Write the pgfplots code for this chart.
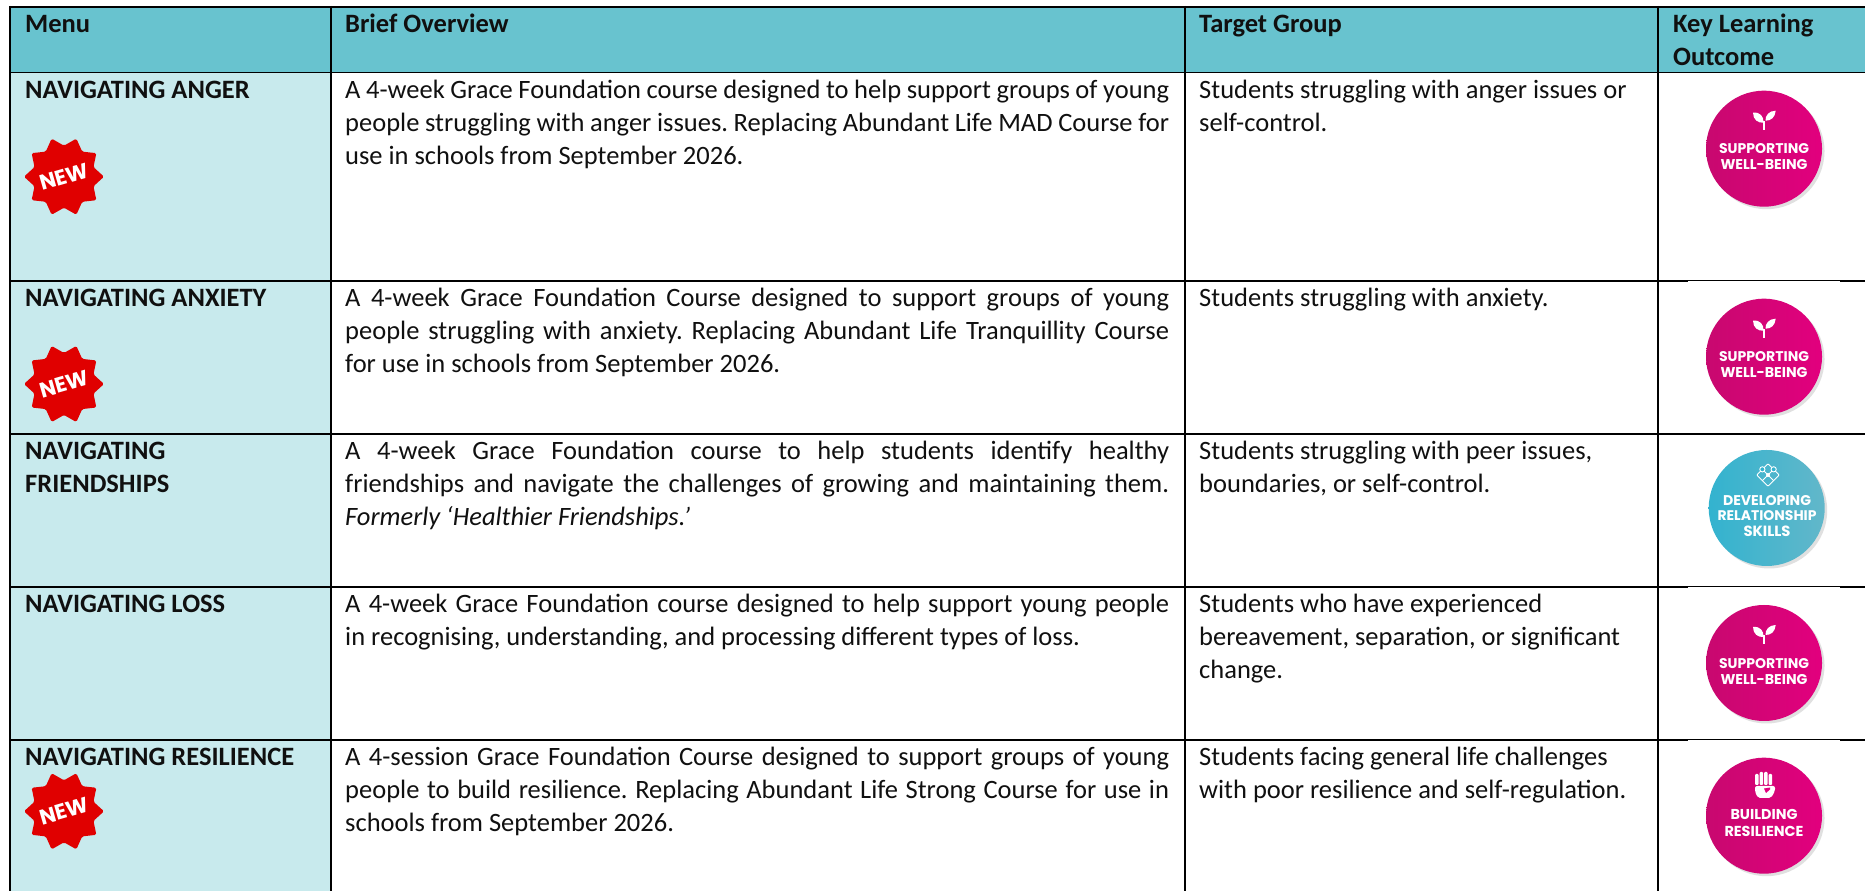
\documentclass[border=0pt]{standalone}
\usepackage{graphicx}
\usepackage{fontspec}
\setmainfont{Carlito}
\newfontfamily\badgef{Poppins}
\usepackage{pgfplots}
\pgfplotsset{compat=1.18}
\frenchspacing
\definecolor{hdr}{HTML}{68C3CF}
\definecolor{rowc}{HTML}{C8EAED}
\definecolor{ink}{HTML}{101010}
\definecolor{newred}{HTML}{E00000}
\definecolor{magL}{HTML}{C8086F}
\definecolor{magR}{HTML}{E2007E}
\definecolor{tealL}{HTML}{33B3CF}
\definecolor{tealR}{HTML}{62B7CA}
\newcommand{\bodyf}{\fontsize{26.5}{33}\selectfont\frenchspacing\color{ink}}
\newcommand{\cell}[3]{\node[anchor=base west,inner sep=0pt,font=\bodyf] at (axis cs:#1,#2) {#3};}
\newcommand{\just}[2]{\node[anchor=base west,inner sep=0pt,font=\bodyf] at (axis cs:345,#1) {\makebox[824pt][s]{#2}};}
\newcommand{\hl}[1]{\addplot[black,line width=1.8pt,forget plot] coordinates {(9,#1)(1865,#1)};}
\newcommand{\vl}[1]{\addplot[black,line width=1.8pt,forget plot] coordinates {(#1,6)(#1,891)};}
\newcommand{\gap}[1]{\addplot[fill=white,draw=none,forget plot] coordinates {(1688,#1)(1840,#1)(1840,#1+1.2)(1688,#1+1.2)} --cycle;}
% badge
\newcommand{\newbadge}[2]{%
  \begin{scope}[shift={(#1,#2)}]
    \fill[newred,rounded corners=1.5pt]
      (0:40) -- (18:31) -- (36:40) -- (54:31) -- (72:40) -- (90:31) -- (108:40) -- (126:31) -- (144:40) -- (162:31)
      -- (180:40) -- (198:31) -- (216:40) -- (234:31) -- (252:40) -- (270:31) -- (288:40) -- (306:31) -- (324:40) -- (342:31) -- cycle;
    \node[white,inner sep=0pt,rotate=16] at (0,0) {\resizebox{50pt}{!}{\badgef\bfseries NEW}};
  \end{scope}}
% disc
\newcommand{\disc}[4]{%
  \fill[black!22,opacity=.55] (#1+2.5,#2+2.5) circle[radius=58];
  \shade[left color=#3,right color=#4] (#1,#2) circle[radius=58];}
\newcommand{\ctext}[4]{\node[white,anchor=base,inner sep=0pt] at (#1,#2) {\resizebox{#3pt}{!}{\badgef\bfseries #4}};}
\newcommand{\sprout}[2]{%
  \begin{scope}[shift={(#1,#2)}]
    \fill[white] (-11,-36) .. controls (-4,-37) and (0,-32) .. (-0.5,-26) .. controls (-6,-25.5) and (-11,-29) .. (-11,-36) -- cycle;
    \fill[white] (11.7,-38) .. controls (5,-38) and (1,-33) .. (1.5,-28) .. controls (7,-28) and (11,-31) .. (11.7,-38) -- cycle;
    \fill[white] (-0.8,-28) -- (1.4,-28) -- (1.4,-19) -- (-0.8,-19) -- cycle;
  \end{scope}}
\newcommand{\well}[2]{%
  \disc{#1}{#2}{magL}{magR}
  \sprout{#1}{#2}
  \ctext{#1}{#2+5.3}{90}{SUPPORTING}
  \ctext{#1}{#2+21.3}{87}{WELL-BEING}}
\begin{document}
\begin{tikzpicture}
\path[use as bounding box,fill=white] (0,0) rectangle (1865pt,891pt);
\begin{axis}[
  at={(0,0)},anchor=south west,
  width=1865pt,height=891pt,scale only axis,
  xmin=0,xmax=1865,ymin=0,ymax=891,y dir=reverse,
  hide axis,clip=false]
% fills
\addplot[fill=hdr,draw=none,forget plot] coordinates {(10,7)(1865,7)(1865,72.5)(10,72.5)} --cycle;
\addplot[fill=rowc,draw=none,forget plot] coordinates {(10,72.5)(331,72.5)(331,891)(10,891)} --cycle;
% rules
\hl{7}\hl{72.5}\hl{281}\hl{434}\hl{587}\hl{740}
\vl{10}\vl{331}\vl{1185}\vl{1658}
\gap{72.5}\gap{281}\gap{587}\gap{740}
% header
\cell{25}{33}{\bfseries Menu}
\cell{345}{33}{\bfseries Brief Overview}
\cell{1199}{33}{\bfseries Target Group}
\cell{1673}{33}{\bfseries Key Learning}
\cell{1673}{66}{\bfseries Outcome}
% menu column
\cell{25}{98.7}{\bfseries NAVIGATING ANGER}
\cell{25}{306.7}{\bfseries NAVIGATING ANXIETY}
\cell{25}{459.5}{\bfseries NAVIGATING}
\cell{25}{492.7}{\bfseries FRIENDSHIPS}
\cell{25}{612.7}{\bfseries NAVIGATING LOSS}
\cell{25}{765.7}{\bfseries NAVIGATING RESILIENCE}
% overview
\just{98.7}{A 4-week Grace Foundation course designed to help support groups of young}
\just{131.7}{people struggling with anger issues. Replacing Abundant Life MAD Course for}
\cell{345}{164.7}{use in schools from September 2026.}
\just{306.7}{A 4-week Grace Foundation Course designed to support groups of young}
\just{339.7}{people struggling with anxiety. Replacing Abundant Life Tranquillity Course}
\cell{345}{372.5}{for use in schools from September 2026.}
\just{459.5}{A 4-week Grace Foundation course to help students identify healthy}
\just{492.7}{friendships and navigate the challenges of growing and maintaining them.}
\cell{345}{525.7}{\itshape Formerly ‘Healthier Friendships.’}
\just{612.7}{A 4-week Grace Foundation course designed to help support young people}
\cell{345}{645.5}{in recognising, understanding, and processing different types of loss.}
\just{765.7}{A 4-session Grace Foundation Course designed to support groups of young}
\just{798.5}{people to build resilience. Replacing Abundant Life Strong Course for use in}
\cell{345}{831.5}{schools from September 2026.}
% target group
\cell{1199}{98.7}{Students struggling with anger issues or}
\cell{1199}{131.7}{self-control.}
\cell{1199}{306.7}{Students struggling with anxiety.}
\cell{1199}{459.5}{Students struggling with peer issues,}
\cell{1199}{492.7}{boundaries, or self-control.}
\cell{1199}{612.7}{Students who have experienced}
\cell{1199}{645.5}{bereavement, separation, or significant}
\cell{1199}{678}{change.}
\cell{1199}{765.7}{Students facing general life challenges}
\cell{1199}{798.5}{with poor resilience and self-regulation.}
\end{axis}
\begin{scope}[x=1pt,y=-1pt,shift={(0,891pt)}]
  \newbadge{64}{176.7}
  \newbadge{64}{384}
  \newbadge{64}{811.3}
  \well{1764}{148.7}
  \well{1764}{356.7}
  \well{1764}{663}
  % relationship
  \disc{1766.7}{508}{tealL}{tealR}
  \begin{scope}[shift={(1768,475)},rotate=45,white,line width=.9pt]
    \draw[rounded corners=1pt] (-8,-8) rectangle (8,8);
    \draw (0,-8) -- (0,8) (-8,0) -- (8,0);
    \fill[tealL] (0,-8) circle[radius=2.6]; \draw (0,-8) circle[radius=2.6];
    \fill[tealL] (8,0) circle[radius=2.6]; \draw (8,0) circle[radius=2.6];
    \fill[white] (0,0) circle[radius=2];
  \end{scope}
  \ctext{1767}{505.3}{88}{DEVELOPING}
  \ctext{1767}{520.7}{99}{RELATIONSHIP}
  \ctext{1767}{536.7}{47}{SKILLS}
  % resilience
  \disc{1764}{815.7}{magL}{magR}
  \begin{scope}[shift={(1765,785)}]
    \fill[white,rounded corners=1pt] (-10,-11) rectangle (-6.5,0);
    \fill[white,rounded corners=1pt] (-5.5,-13) rectangle (-2,0);
    \fill[white,rounded corners=1pt] (-1,-13) rectangle (2.5,0);
    \fill[white,rounded corners=1pt] (3.5,-11) rectangle (7,0);
    \fill[white,rounded corners=2pt] (-10,1) -- (10,1) -- (10,6) -- (6,13) -- (-7,13) -- (-10,7) -- cycle;
    \fill[magR] (-1,3.5) -- (5,2.5) -- (5,4.5) -- (1,8) -- cycle;
  \end{scope}
  \ctext{1764}{820}{67}{BUILDING}
  \ctext{1764}{836.7}{79}{RESILIENCE}
\end{scope}
\end{tikzpicture}
\end{document}
